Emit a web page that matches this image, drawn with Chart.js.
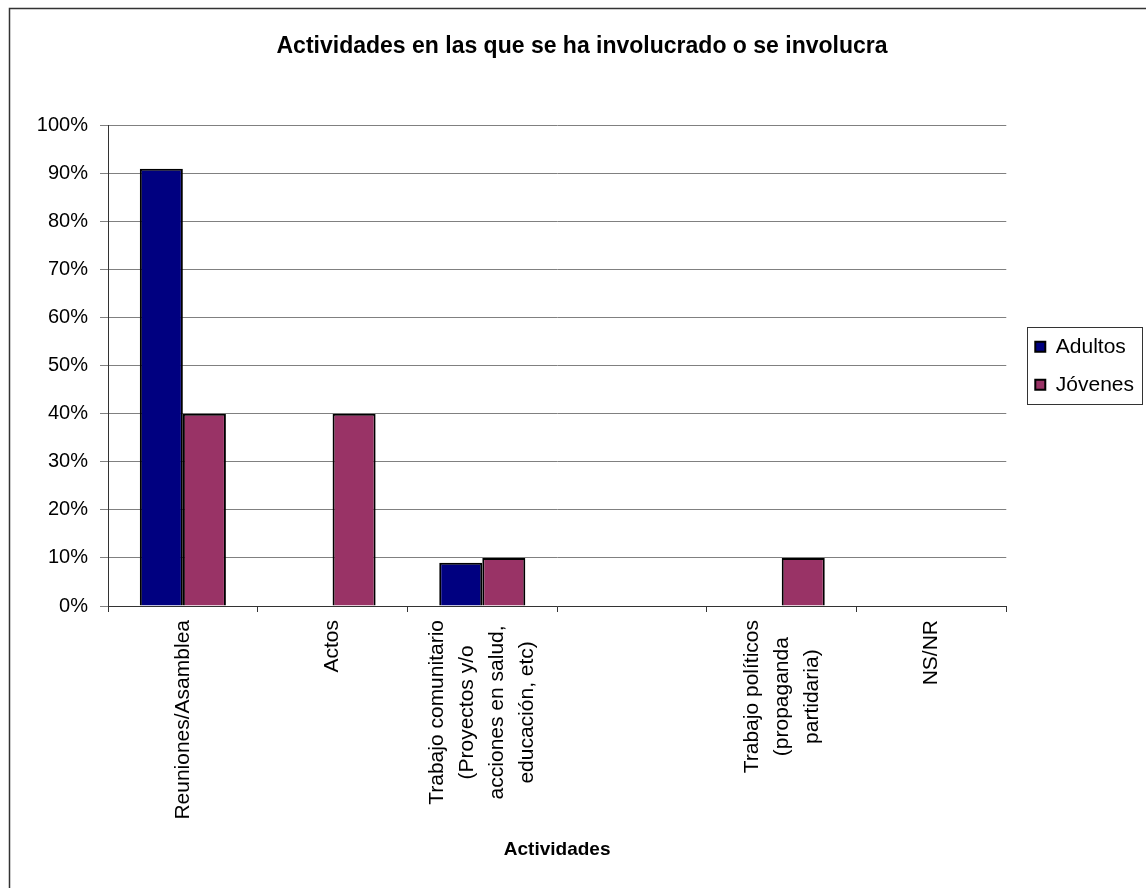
<!DOCTYPE html>
<html>
<head>
<meta charset="utf-8">
<script src="https://cdn.jsdelivr.net/npm/chart.js@4/dist/chart.umd.min.js"></script>
<style>
	body { margin: 0; background: #fff; }
	#wrap { width: 1146px; height: 888px; }
</style>
</head>
<body>
<div id="wrap"><canvas id="actividades" width="1146" height="888"></canvas></div>
<script>
// categorias (multi linea) y valores en %
const categorias = [
	['Reuniones/Asamblea'],
	['Actos'],
	['Trabajo comunitario', '(Proyectos y/o', 'acciones en salud,', 'educación, etc)'],
	[''],
	['Trabajo políticos', '(propaganda', 'partidaria)'],
	['NS/NR']
];
const adultos = [91, 0, 9, 0, 0, 0];
const jovenes = [40, 40, 10, 0, 10, 0];
const yTicks = [0, 10, 20, 30, 40, 50, 60, 70, 80, 90, 100];

Chart.defaults.font.family = '"Liberation Sans", Arial, sans-serif';
Chart.defaults.color = '#000';

// marco, etiquetas centradas del eje x y caja de la leyenda
const extras = {
	id: 'extras',
	beforeDraw(chart) {
		const ctx = chart.ctx;
		ctx.save();
		ctx.fillStyle = '#fff';
		ctx.fillRect(0, 0, chart.width, chart.height);
		ctx.strokeStyle = '#333';
		ctx.lineWidth = 1.5;
		ctx.strokeRect(9.5, 8.5, 1300, 1000);
		ctx.restore();
	},
	afterLayout(chart) {
		// leyenda centrada sobre el area del grafico, con algo de aire
		const lg = chart.legend;
		lg.left += 12;
		lg.right += 12;
		lg.top = chart.chartArea.top;
		lg.bottom = chart.chartArea.bottom;
		lg.height = lg.bottom - lg.top;
	},
	afterDraw(chart) {
		const ctx = chart.ctx;
		const xs = chart.scales.x;
		ctx.save();
		ctx.font = '21px "Liberation Sans", Arial, sans-serif';
		ctx.fillStyle = '#000';
		ctx.textAlign = 'center';
		ctx.textBaseline = 'middle';
		categorias.forEach((lines, i) => {
			const x = xs.getPixelForTick(i);
			const w = Math.max(...lines.map(l => ctx.measureText(l).width));
			const cy = xs.top + 14 + w / 2;
			lines.forEach((l, j) => {
				ctx.save();
				ctx.translate(x + (j - (lines.length - 1) / 2) * 30, cy);
				ctx.rotate(-Math.PI / 2);
				ctx.fillText(l, 0, 0);
				ctx.restore();
			});
		});
		// caja leyenda
		const hb = chart.legend.legendHitBoxes;
		if (hb && hb.length) {
			const l = Math.min(...hb.map(h => h.left)) - 8;
			const r = Math.max(...hb.map(h => h.left + h.width)) + 8;
			const t = Math.min(...hb.map(h => h.top)) - 9;
			const b = Math.max(...hb.map(h => h.top + h.height)) + 9;
			ctx.strokeStyle = '#333';
			ctx.lineWidth = 1;
			ctx.strokeRect(Math.round(l) + 0.5, Math.round(t) + 0.5, Math.round(r - l), Math.round(b - t));
		}
		ctx.restore();
	}
};

new Chart(document.getElementById('actividades'), {
	type: 'bar',
	data: {
		labels: categorias,
		datasets: [
			{
				label: 'Adultos',
				data: adultos,
				backgroundColor: '#000080',
				borderColor: '#000',
				borderWidth: 2,
				categoryPercentage: 0.575,
				barPercentage: 1
			},
			{
				label: 'Jóvenes',
				data: jovenes,
				backgroundColor: '#993366',
				borderColor: '#000',
				borderWidth: 2,
				categoryPercentage: 0.575,
				barPercentage: 1
			}
		]
	},
	options: {
		responsive: false,
		devicePixelRatio: 1,
		animation: false,
		layout: { padding: { left: 32, right: 14, top: 0, bottom: 0 } },
		plugins: {
			title: {
				display: true,
				text: 'Actividades en las que se ha involucrado o se involucra',
				font: { size: 23, weight: 'bold' },
				padding: { top: 33, bottom: 65 }
			},
			legend: {
				position: 'right',
				labels: {
					boxWidth: 10,
					boxHeight: 10,
					padding: 17,
					font: { size: 21 }
				}
			},
			tooltip: { enabled: false }
		},
		scales: {
			x: {
				grid: { drawOnChartArea: false, drawTicks: true, tickLength: 6, color: '#333' },
				border: { color: '#333', width: 1 },
				ticks: { autoSkip: false, minRotation: 90, maxRotation: 90, color: 'transparent', font: { size: 21 } },
				title: {
					display: true,
					text: 'Actividades',
					font: { size: 19, weight: 'bold' },
					padding: { top: 0, bottom: 27 }
				},
				afterFit(scale) { scale.height = 282; }
			},
			y: {
				min: 0,
				max: 100,
				afterBuildTicks(scale) { scale.ticks = yTicks.map(v => ({ value: v })); },
				grid: { color: '#808080', tickLength: 8 },
				border: { color: '#333', width: 1 },
				ticks: { padding: 12, font: { size: 20 }, callback: v => v + '%' },
				afterFit(scale) { scale.width = 76; }
			}
		}
	},
	plugins: [extras]
});
</script>
</body>
</html>
